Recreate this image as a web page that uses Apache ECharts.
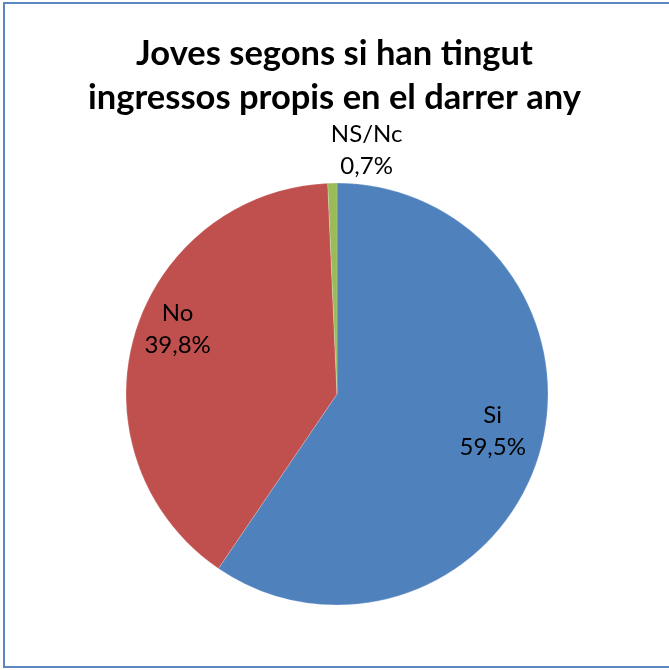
<!DOCTYPE html>
<html>
<head>
<meta charset="utf-8">
<script src="https://cdn.jsdelivr.net/npm/echarts@6/dist/echarts.min.js"></script>
<style>
html,body{margin:0;padding:0;background:#fff;}
#chart{width:669px;height:670px;}
</style>
</head>
<body>
<div id="chart"></div>
<script>
const categories = ["Si", "No", "NS/Nc"];
const values = [59.5, 39.8, 0.7];
const colors = ["#4F81BD", "#C0504D", "#9BBB59"];
const labelOffsets = [[52, 5], [-55, -35], [32, -135]];

const chart = echarts.init(document.getElementById('chart'), null, {renderer: 'canvas'});
const fmt = v => v.toFixed(1).replace('.', ',') + '%';
chart.setOption({
  animation: false,
  backgroundColor: '#fff',
  title: {
    text: 'Joves segons si han tingut\ningressos propis en el darrer any',
    left: 'center',
    top: 27,
    textStyle: {
      fontFamily: 'Lato',
      fontWeight: 'bold',
      fontSize: 34.5,
      lineHeight: 44,
      color: '#000'
    }
  },
  graphic: [{
    type: 'rect',
    shape: {x: 4, y: 3, width: 675, height: 664},
    style: {fill: 'none', stroke: '#5B86C0', lineWidth: 2},
    silent: true
  }],
  series: [{
    type: 'pie',
    center: [337, 394],
    radius: [0, 211],
    startAngle: 90,
    clockwise: true,
    avoidLabelOverlap: false,
    itemStyle: {borderColor: 'rgba(255,255,255,0.4)', borderWidth: 0.5},
    label: {
      position: 'inside',
      fontFamily: 'Lato',
      fontSize: 24,
      lineHeight: 32,
      color: '#000',
      formatter: p => p.name + '\n' + fmt(p.value)
    },
    labelLine: {show: false},
    data: categories.map((c, i) => ({
      name: c,
      value: values[i],
      itemStyle: {color: colors[i]},
      label: {offset: labelOffsets[i]}
    }))
  }]
});
</script>
</body>
</html>
